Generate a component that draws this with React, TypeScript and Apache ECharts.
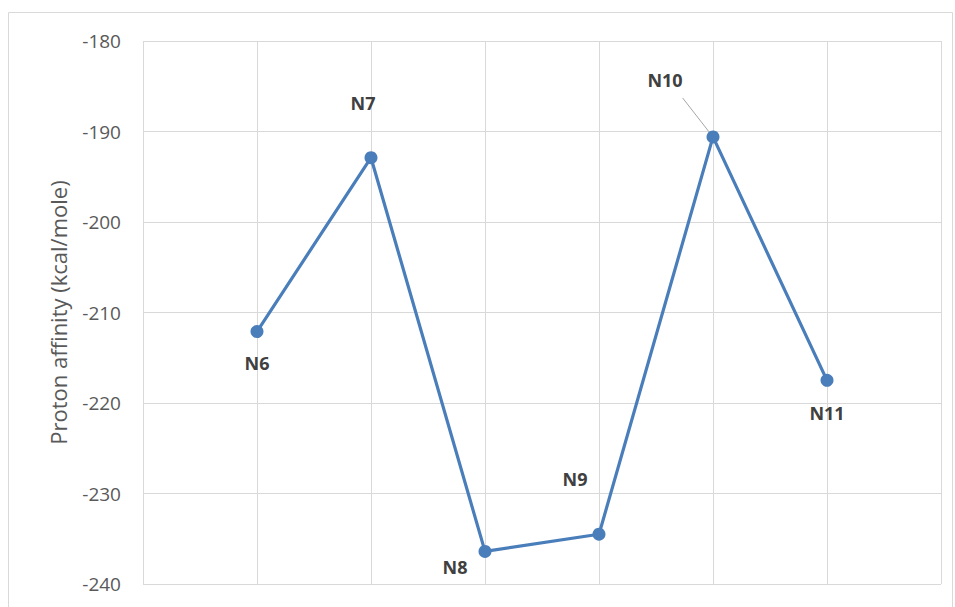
import React, { useEffect, useRef } from "react";
import * as echarts from "echarts";

const categories = ["N6", "N7", "N8", "N9", "N10", "N11"];
const positions = [1, 2, 3, 4, 5, 6];
const values = [-212.1, -192.9, -236.4, -234.5, -190.6, -217.5];
const labelOffsets: [number, number][] = [
  [0, 31],
  [-8, -55],
  [-30, 16],
  [-24, -55],
  [-48, -57],
  [0, 33],
];
const yTicks = { min: -240, max: -180, interval: 10 };

export default function App() {
  const ref = useRef<HTMLDivElement>(null);
  useEffect(() => {
    if (!ref.current) return;
    const chart = echarts.init(ref.current, null, { renderer: "svg" });
    const data = values.map((v, i) => ({
      value: [positions[i], v],
      name: categories[i],
      label: { offset: labelOffsets[i] },
      labelLine:
        categories[i] === "N10"
          ? { show: true, lineStyle: { color: "#a6a6a6", width: 1 } }
          : { show: false },
    }));
    chart.setOption({
      animation: false,
      backgroundColor: "#ffffff",
      graphic: [
        {
          type: "rect",
          shape: { x: 8.5, y: 12.5, width: 944, height: 640 },
          style: { fill: "none", stroke: "#d9d9d9", lineWidth: 1 },
          silent: true,
        },
      ],
      grid: { left: 143, right: 14, top: 41, bottom: 23 },
      xAxis: {
        type: "value",
        min: 0,
        max: 7,
        interval: 1,
        axisLine: { show: false },
        axisTick: { show: false },
        axisLabel: { show: false },
        splitLine: { show: true, lineStyle: { color: "#d9d9d9", width: 1 } },
      },
      yAxis: {
        type: "value",
        min: yTicks.min,
        max: yTicks.max,
        interval: yTicks.interval,
        name: "Proton affinity (kcal/mole)",
        nameLocation: "middle",
        nameGap: 74,
        nameTextStyle: { color: "#595959", fontSize: 22, fontFamily: "Open Sans" },
        axisLine: { show: false },
        axisTick: { show: false },
        axisLabel: {
          color: "#595959",
          fontSize: 19,
          fontFamily: "Open Sans",
          margin: 22,
        },
        splitLine: { show: true, lineStyle: { color: "#d9d9d9", width: 1 } },
      },
      series: [
        {
          type: "line",
          data,
          symbol: "circle",
          symbolSize: 13,
          lineStyle: { color: "#4a7ebb", width: 3.2 },
          itemStyle: { color: "#4a7ebb" },
          label: {
            show: true,
            position: "inside",
            formatter: (p: any) => p.name,
            color: "#404040",
            fontSize: 18,
            fontWeight: "bold",
            fontFamily: "Open Sans",
          },
        },
      ],
    });
    return () => chart.dispose();
  }, []);
  return (
    <div
      ref={ref}
      style={{ position: "fixed", left: 0, top: 0, width: 955, height: 607 }}
    />
  );
}
